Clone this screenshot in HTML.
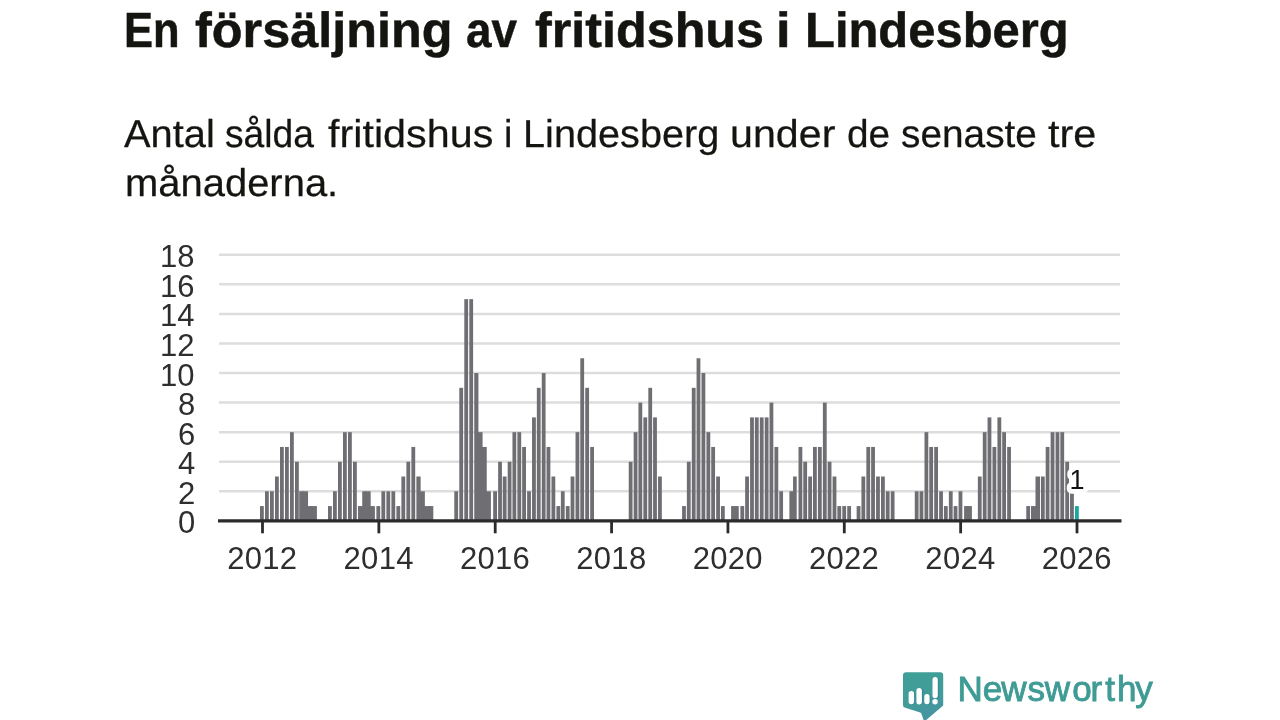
<!DOCTYPE html>
<html lang="sv"><head><meta charset="utf-8"><title>En försäljning av fritidshus i Lindesberg</title>
<style>
html,body{margin:0;padding:0;background:#fff}
body{width:1280px;height:720px;position:relative;overflow:hidden;font-family:"Liberation Sans",sans-serif}
#title{position:absolute;left:0;top:2.7px;width:1280px;height:56px;margin:0;font-weight:bold;font-size:49.5px;line-height:56px;color:#141410;white-space:nowrap;-webkit-text-stroke:0.5px #141410}
#sub{position:absolute;left:0;top:109.6px;width:1280px;height:100px;margin:0;font-size:38.8px;line-height:49.25px;color:#141410;white-space:nowrap;-webkit-text-stroke:0.25px #141410}
#title,#sub{text-rendering:geometricPrecision}
#title span,#sub span{position:absolute;top:0;transform-origin:0 0;display:block}
#sub span.l2{top:49.25px}
svg text{font-family:"Liberation Sans",sans-serif;fill:#2e2e2e}
.yl{font-size:31px}.xl{font-size:31px;letter-spacing:0.3px}
.an{font-size:27px;fill:#111}
#chart{position:absolute;left:0;top:0}
#logo{position:absolute;left:0;top:0}
#brand{position:absolute;left:957.55px;top:669.2px;font-size:35px;line-height:40px;color:#3f9b95;-webkit-text-stroke:0.9px #3f9b95;white-space:nowrap}
</style></head><body>
<h1 id="title"><span style="left:124.36px;transform:translateY(0.0px) scale(0.8793,1.0)">En</span> <span style="left:195.00px;transform:translateY(0.0px) scale(1.0180,1.0)">försäljning</span> <span style="left:466.07px;transform:translateY(0.0px) scale(0.9259,1.0)">av</span> <span style="left:535.00px;transform:translateY(0.0px) scale(1.0156,1.0)">fritidshus</span> <span style="left:776.31px;transform:translateY(0.0px) scale(1.0625,1.0)">i</span> <span style="left:805.03px;transform:translateY(0.0px) scale(0.9885,1.0)">Lindesberg</span></h1>
<p id="sub"><span style="left:123.75px;transform:translateY(0.0px) scale(1.0262,1.0)">Antal</span> <span style="left:225.29px;transform:translateY(0.0px) scale(0.9592,1.0)">sålda</span> <span style="left:328.00px;transform:translateY(0.0px) scale(1.0649,1.0)">fritidshus</span> <span style="left:503.85px;transform:translateY(0.0px) scale(0.9750,1.0)">i</span> <span style="left:523.18px;transform:translateY(0.0px) scale(1.0227,1.0)">Lindesberg</span> <span style="left:730.38px;transform:translateY(0.0px) scale(1.0619,1.0)">under</span> <span style="left:847.00px;transform:translateY(0.0px) scale(1.0000,1.0)">de</span> <span style="left:901.00px;transform:translateY(0.0px) scale(1.0000,1.0)">senaste</span> <span style="left:1048.00px;transform:translateY(0.0px) scale(1.0682,1.0)">tre</span> <span class="l2" style="left:124.94px;transform:translateY(0.0px) scale(1.0297,1.0)">månaderna.</span></p>
<svg id="chart" width="1280" height="720" viewBox="0 0 1280 720">
<line x1="219" x2="1120" y1="491.29" y2="491.29" stroke="#dddddd" stroke-width="2.5"/>
<line x1="219" x2="1120" y1="461.73" y2="461.73" stroke="#dddddd" stroke-width="2.5"/>
<line x1="219" x2="1120" y1="432.17" y2="432.17" stroke="#dddddd" stroke-width="2.5"/>
<line x1="219" x2="1120" y1="402.61" y2="402.61" stroke="#dddddd" stroke-width="2.5"/>
<line x1="219" x2="1120" y1="373.05" y2="373.05" stroke="#dddddd" stroke-width="2.5"/>
<line x1="219" x2="1120" y1="343.49" y2="343.49" stroke="#dddddd" stroke-width="2.5"/>
<line x1="219" x2="1120" y1="313.93" y2="313.93" stroke="#dddddd" stroke-width="2.5"/>
<line x1="219" x2="1120" y1="284.37" y2="284.37" stroke="#dddddd" stroke-width="2.5"/>
<line x1="219" x2="1120" y1="254.81" y2="254.81" stroke="#dddddd" stroke-width="2.5"/>
<rect x="260.00" y="506.07" width="3.80" height="14.78" fill="#6e6e73"/>
<rect x="265.00" y="491.29" width="3.80" height="29.56" fill="#6e6e73"/>
<rect x="270.00" y="491.29" width="3.80" height="29.56" fill="#6e6e73"/>
<rect x="275.00" y="476.51" width="3.80" height="44.34" fill="#6e6e73"/>
<rect x="280.00" y="446.95" width="3.80" height="73.90" fill="#6e6e73"/>
<rect x="285.00" y="446.95" width="3.80" height="73.90" fill="#6e6e73"/>
<rect x="290.00" y="432.17" width="3.80" height="88.68" fill="#6e6e73"/>
<rect x="295.00" y="461.73" width="3.80" height="59.12" fill="#6e6e73"/>
<rect x="299.20" y="491.29" width="4.43" height="29.56" fill="#6e6e73"/>
<rect x="302.62" y="491.29" width="5.42" height="29.56" fill="#6e6e73"/>
<rect x="307.05" y="506.07" width="5.43" height="14.78" fill="#6e6e73"/>
<rect x="311.47" y="506.07" width="5.43" height="14.78" fill="#6e6e73"/>
<rect x="328.00" y="506.07" width="3.80" height="14.78" fill="#6e6e73"/>
<rect x="333.00" y="491.29" width="3.80" height="29.56" fill="#6e6e73"/>
<rect x="338.00" y="461.73" width="3.80" height="59.12" fill="#6e6e73"/>
<rect x="343.00" y="432.17" width="3.80" height="88.68" fill="#6e6e73"/>
<rect x="348.00" y="432.17" width="3.80" height="88.68" fill="#6e6e73"/>
<rect x="353.00" y="461.73" width="3.80" height="59.12" fill="#6e6e73"/>
<rect x="358.00" y="506.07" width="5.23" height="14.78" fill="#6e6e73"/>
<rect x="362.23" y="491.29" width="4.22" height="29.56" fill="#6e6e73"/>
<rect x="365.45" y="491.29" width="5.22" height="29.56" fill="#6e6e73"/>
<rect x="369.67" y="506.07" width="5.23" height="14.78" fill="#6e6e73"/>
<rect x="376.40" y="506.07" width="3.80" height="14.78" fill="#6e6e73"/>
<rect x="381.40" y="491.29" width="3.80" height="29.56" fill="#6e6e73"/>
<rect x="386.40" y="491.29" width="3.80" height="29.56" fill="#6e6e73"/>
<rect x="391.40" y="491.29" width="3.80" height="29.56" fill="#6e6e73"/>
<rect x="396.40" y="506.07" width="3.80" height="14.78" fill="#6e6e73"/>
<rect x="401.40" y="476.51" width="3.80" height="44.34" fill="#6e6e73"/>
<rect x="406.40" y="461.73" width="3.80" height="59.12" fill="#6e6e73"/>
<rect x="411.40" y="446.95" width="3.80" height="73.90" fill="#6e6e73"/>
<rect x="416.40" y="476.51" width="4.23" height="44.34" fill="#6e6e73"/>
<rect x="419.62" y="491.29" width="5.23" height="29.56" fill="#6e6e73"/>
<rect x="423.85" y="506.07" width="5.22" height="14.78" fill="#6e6e73"/>
<rect x="428.07" y="506.07" width="5.23" height="14.78" fill="#6e6e73"/>
<rect x="454.30" y="491.29" width="3.80" height="29.56" fill="#6e6e73"/>
<rect x="459.30" y="387.83" width="3.80" height="133.02" fill="#6e6e73"/>
<rect x="464.30" y="299.15" width="3.80" height="221.70" fill="#6e6e73"/>
<rect x="469.30" y="299.15" width="3.80" height="221.70" fill="#6e6e73"/>
<rect x="474.25" y="373.05" width="4.16" height="147.80" fill="#6e6e73"/>
<rect x="477.41" y="432.17" width="5.16" height="88.68" fill="#6e6e73"/>
<rect x="481.57" y="446.95" width="5.16" height="73.90" fill="#6e6e73"/>
<rect x="485.74" y="491.29" width="5.16" height="29.56" fill="#6e6e73"/>
<rect x="493.19" y="491.29" width="3.80" height="29.56" fill="#6e6e73"/>
<rect x="498.13" y="461.73" width="3.80" height="59.12" fill="#6e6e73"/>
<rect x="502.75" y="476.51" width="3.80" height="44.34" fill="#6e6e73"/>
<rect x="507.68" y="461.73" width="3.80" height="59.12" fill="#6e6e73"/>
<rect x="512.46" y="432.17" width="3.80" height="88.68" fill="#6e6e73"/>
<rect x="517.40" y="432.17" width="3.80" height="88.68" fill="#6e6e73"/>
<rect x="522.18" y="446.95" width="3.80" height="73.90" fill="#6e6e73"/>
<rect x="527.12" y="491.29" width="3.80" height="29.56" fill="#6e6e73"/>
<rect x="532.05" y="417.39" width="3.80" height="103.46" fill="#6e6e73"/>
<rect x="536.83" y="387.83" width="3.80" height="133.02" fill="#6e6e73"/>
<rect x="541.77" y="373.05" width="3.80" height="147.80" fill="#6e6e73"/>
<rect x="546.55" y="446.95" width="3.80" height="73.90" fill="#6e6e73"/>
<rect x="551.48" y="476.51" width="3.80" height="44.34" fill="#6e6e73"/>
<rect x="556.42" y="506.07" width="3.80" height="14.78" fill="#6e6e73"/>
<rect x="560.88" y="491.29" width="3.80" height="29.56" fill="#6e6e73"/>
<rect x="565.82" y="506.07" width="3.80" height="14.78" fill="#6e6e73"/>
<rect x="570.60" y="476.51" width="3.80" height="44.34" fill="#6e6e73"/>
<rect x="575.53" y="432.17" width="3.80" height="88.68" fill="#6e6e73"/>
<rect x="580.31" y="358.27" width="3.80" height="162.58" fill="#6e6e73"/>
<rect x="585.25" y="387.83" width="3.80" height="133.02" fill="#6e6e73"/>
<rect x="590.19" y="446.95" width="3.80" height="73.90" fill="#6e6e73"/>
<rect x="628.73" y="461.73" width="3.80" height="59.12" fill="#6e6e73"/>
<rect x="633.67" y="432.17" width="3.80" height="88.68" fill="#6e6e73"/>
<rect x="638.44" y="402.61" width="3.80" height="118.24" fill="#6e6e73"/>
<rect x="643.38" y="417.39" width="3.80" height="103.46" fill="#6e6e73"/>
<rect x="648.32" y="387.83" width="3.80" height="133.02" fill="#6e6e73"/>
<rect x="653.10" y="417.39" width="3.80" height="103.46" fill="#6e6e73"/>
<rect x="658.03" y="476.51" width="3.80" height="44.34" fill="#6e6e73"/>
<rect x="682.08" y="506.07" width="3.80" height="14.78" fill="#6e6e73"/>
<rect x="686.86" y="461.73" width="3.80" height="59.12" fill="#6e6e73"/>
<rect x="691.80" y="387.83" width="3.80" height="133.02" fill="#6e6e73"/>
<rect x="696.58" y="358.27" width="3.80" height="162.58" fill="#6e6e73"/>
<rect x="701.51" y="373.05" width="3.80" height="147.80" fill="#6e6e73"/>
<rect x="706.45" y="432.17" width="3.80" height="88.68" fill="#6e6e73"/>
<rect x="711.23" y="446.95" width="3.80" height="73.90" fill="#6e6e73"/>
<rect x="716.17" y="476.51" width="3.80" height="44.34" fill="#6e6e73"/>
<rect x="720.95" y="506.07" width="3.80" height="14.78" fill="#6e6e73"/>
<rect x="731.10" y="506.07" width="3.82" height="14.78" fill="#6e6e73"/>
<rect x="733.92" y="506.07" width="4.83" height="14.78" fill="#6e6e73"/>
<rect x="740.38" y="506.07" width="3.80" height="14.78" fill="#6e6e73"/>
<rect x="745.15" y="476.51" width="3.80" height="44.34" fill="#6e6e73"/>
<rect x="750.09" y="417.39" width="3.80" height="103.46" fill="#6e6e73"/>
<rect x="754.87" y="417.39" width="3.80" height="103.46" fill="#6e6e73"/>
<rect x="759.81" y="417.39" width="3.80" height="103.46" fill="#6e6e73"/>
<rect x="764.74" y="417.39" width="3.80" height="103.46" fill="#6e6e73"/>
<rect x="769.52" y="402.61" width="3.80" height="118.24" fill="#6e6e73"/>
<rect x="774.46" y="446.95" width="3.80" height="73.90" fill="#6e6e73"/>
<rect x="779.24" y="491.29" width="3.80" height="29.56" fill="#6e6e73"/>
<rect x="789.40" y="491.29" width="4.65" height="29.56" fill="#6e6e73"/>
<rect x="793.05" y="476.51" width="3.65" height="44.34" fill="#6e6e73"/>
<rect x="798.51" y="446.95" width="3.80" height="73.90" fill="#6e6e73"/>
<rect x="803.29" y="461.73" width="3.80" height="59.12" fill="#6e6e73"/>
<rect x="808.22" y="476.51" width="3.80" height="44.34" fill="#6e6e73"/>
<rect x="813.00" y="446.95" width="3.80" height="73.90" fill="#6e6e73"/>
<rect x="817.94" y="446.95" width="3.80" height="73.90" fill="#6e6e73"/>
<rect x="822.88" y="402.61" width="3.80" height="118.24" fill="#6e6e73"/>
<rect x="827.66" y="461.73" width="3.80" height="59.12" fill="#6e6e73"/>
<rect x="832.59" y="476.51" width="3.80" height="44.34" fill="#6e6e73"/>
<rect x="837.37" y="506.07" width="3.80" height="14.78" fill="#6e6e73"/>
<rect x="842.31" y="506.07" width="3.80" height="14.78" fill="#6e6e73"/>
<rect x="847.25" y="506.07" width="3.80" height="14.78" fill="#6e6e73"/>
<rect x="856.64" y="506.07" width="3.80" height="14.78" fill="#6e6e73"/>
<rect x="861.42" y="476.51" width="3.80" height="44.34" fill="#6e6e73"/>
<rect x="866.36" y="446.95" width="3.80" height="73.90" fill="#6e6e73"/>
<rect x="871.14" y="446.95" width="3.80" height="73.90" fill="#6e6e73"/>
<rect x="876.07" y="476.51" width="3.80" height="44.34" fill="#6e6e73"/>
<rect x="881.01" y="476.51" width="3.80" height="44.34" fill="#6e6e73"/>
<rect x="885.79" y="491.29" width="3.80" height="29.56" fill="#6e6e73"/>
<rect x="890.73" y="491.29" width="3.80" height="29.56" fill="#6e6e73"/>
<rect x="914.78" y="491.29" width="3.80" height="29.56" fill="#6e6e73"/>
<rect x="919.55" y="491.29" width="3.80" height="29.56" fill="#6e6e73"/>
<rect x="924.49" y="432.17" width="3.80" height="88.68" fill="#6e6e73"/>
<rect x="929.27" y="446.95" width="3.80" height="73.90" fill="#6e6e73"/>
<rect x="934.21" y="446.95" width="3.80" height="73.90" fill="#6e6e73"/>
<rect x="939.14" y="491.29" width="3.80" height="29.56" fill="#6e6e73"/>
<rect x="943.92" y="506.07" width="3.80" height="14.78" fill="#6e6e73"/>
<rect x="948.86" y="491.29" width="3.80" height="29.56" fill="#6e6e73"/>
<rect x="953.64" y="506.07" width="3.80" height="14.78" fill="#6e6e73"/>
<rect x="958.57" y="491.29" width="3.80" height="29.56" fill="#6e6e73"/>
<rect x="964.10" y="506.07" width="3.90" height="14.78" fill="#6e6e73"/>
<rect x="967.00" y="506.07" width="4.90" height="14.78" fill="#6e6e73"/>
<rect x="977.85" y="476.51" width="3.80" height="44.34" fill="#6e6e73"/>
<rect x="982.78" y="432.17" width="3.80" height="88.68" fill="#6e6e73"/>
<rect x="987.56" y="417.39" width="3.80" height="103.46" fill="#6e6e73"/>
<rect x="992.50" y="446.95" width="3.80" height="73.90" fill="#6e6e73"/>
<rect x="997.44" y="417.39" width="3.80" height="103.46" fill="#6e6e73"/>
<rect x="1002.21" y="432.17" width="3.80" height="88.68" fill="#6e6e73"/>
<rect x="1007.15" y="446.95" width="3.80" height="73.90" fill="#6e6e73"/>
<rect x="1026.26" y="506.07" width="3.80" height="14.78" fill="#6e6e73"/>
<rect x="1031.00" y="506.07" width="5.50" height="14.78" fill="#6e6e73"/>
<rect x="1035.50" y="476.51" width="4.50" height="44.34" fill="#6e6e73"/>
<rect x="1040.92" y="476.51" width="3.80" height="44.34" fill="#6e6e73"/>
<rect x="1045.69" y="446.95" width="3.80" height="73.90" fill="#6e6e73"/>
<rect x="1050.63" y="432.17" width="3.80" height="88.68" fill="#6e6e73"/>
<rect x="1055.57" y="432.17" width="3.80" height="88.68" fill="#6e6e73"/>
<rect x="1060.35" y="432.17" width="3.80" height="88.68" fill="#6e6e73"/>
<rect x="1065.28" y="461.73" width="3.80" height="59.12" fill="#6e6e73"/>
<rect x="1070.06" y="476.51" width="3.80" height="44.34" fill="#6e6e73"/>
<rect x="1075.00" y="506.07" width="3.80" height="14.78" fill="#1aa8a0"/>
<line x1="218" x2="1121.5" y1="520.85" y2="520.85" stroke="#2b2b2b" stroke-width="3.2"/>
<line x1="262.50" x2="262.50" y1="520.85" y2="533.3" stroke="#2b2b2b" stroke-width="2.8"/>
<line x1="378.86" x2="378.86" y1="520.85" y2="533.3" stroke="#2b2b2b" stroke-width="2.8"/>
<line x1="495.21" x2="495.21" y1="520.85" y2="533.3" stroke="#2b2b2b" stroke-width="2.8"/>
<line x1="611.57" x2="611.57" y1="520.85" y2="533.3" stroke="#2b2b2b" stroke-width="2.8"/>
<line x1="727.93" x2="727.93" y1="520.85" y2="533.3" stroke="#2b2b2b" stroke-width="2.8"/>
<line x1="844.29" x2="844.29" y1="520.85" y2="533.3" stroke="#2b2b2b" stroke-width="2.8"/>
<line x1="960.64" x2="960.64" y1="520.85" y2="533.3" stroke="#2b2b2b" stroke-width="2.8"/>
<line x1="1077.00" x2="1077.00" y1="520.85" y2="533.3" stroke="#2b2b2b" stroke-width="2.8"/>
<text class="yl" x="195.3" y="533.35" text-anchor="end">0</text>
<text class="yl" x="195.3" y="503.79" text-anchor="end">2</text>
<text class="yl" x="195.3" y="474.23" text-anchor="end">4</text>
<text class="yl" x="195.3" y="444.67" text-anchor="end">6</text>
<text class="yl" x="195.3" y="415.11" text-anchor="end">8</text>
<text class="yl" x="194.5" y="385.55" text-anchor="end">10</text>
<text class="yl" x="194.5" y="355.99" text-anchor="end">12</text>
<text class="yl" x="194.5" y="326.43" text-anchor="end">14</text>
<text class="yl" x="194.5" y="296.87" text-anchor="end">16</text>
<text class="yl" x="194.5" y="267.31" text-anchor="end">18</text>
<text class="xl" x="262.30" y="569.2" text-anchor="middle">2012</text>
<text class="xl" x="378.66" y="569.2" text-anchor="middle">2014</text>
<text class="xl" x="495.01" y="569.2" text-anchor="middle">2016</text>
<text class="xl" x="611.37" y="569.2" text-anchor="middle">2018</text>
<text class="xl" x="727.73" y="569.2" text-anchor="middle">2020</text>
<text class="xl" x="844.09" y="569.2" text-anchor="middle">2022</text>
<text class="xl" x="960.44" y="569.2" text-anchor="middle">2024</text>
<text class="xl" x="1076.80" y="569.2" text-anchor="middle">2026</text>
<circle cx="1071.6" cy="481" r="2.4" fill="#fff"/>
<text class="an" x="1077" y="489.3" text-anchor="middle" stroke="#fff" stroke-width="9.5" stroke-linejoin="round" paint-order="stroke">1</text>
</svg>
<svg id="logo" width="1280" height="720" viewBox="0 0 1280 720">
<defs><linearGradient id="lg" x1="0" y1="0" x2="0.35" y2="1"><stop offset="0" stop-color="#3f9f97"/><stop offset="0.6" stop-color="#419c99"/><stop offset="1" stop-color="#4695a1"/></linearGradient></defs>
<path d="M906 672.2 H940.2 a3 3 0 0 1 3 3 V705.6 L926.2 720 H923.6 L921.3 713.6 Q921 712.8 920.2 712.5 L905.3 707.8 a3 3 0 0 1 -2.3 -2.9 V675.2 a3 3 0 0 1 3 -3 Z" fill="url(#lg)"/>
<g fill="#2f7d86" opacity="0.55">
<rect x="909.9" y="691.6" width="5.6" height="13" rx="2.8"/>
<rect x="917.8" y="688.2" width="5.6" height="16.4" rx="2.8"/>
<rect x="925.4" y="694.4" width="5.4" height="10.2" rx="2.7"/>
<rect x="933.7" y="677.4" width="5.4" height="21.4" rx="2.7"/>
</g>
<rect x="908.6" y="691.1" width="5.5" height="13.1" rx="2.75" fill="#fff"/>
<rect x="916.4" y="687.9" width="5.5" height="16.6" rx="2.75" fill="#fff"/>
<rect x="924.3" y="694" width="5.3" height="10.2" rx="2.65" fill="#fff"/>
<rect x="932.5" y="677" width="5.3" height="21.2" rx="2.65" fill="#fff"/>
<circle cx="935.05" cy="701.7" r="2.7" fill="#fff"/>
</svg>
<div id="brand"><span style="letter-spacing:-0.18px">N</span><span style="letter-spacing:-0.82px">e</span><span style="letter-spacing:1.02px">w</span><span style="letter-spacing:-0.4px">s</span><span style="letter-spacing:2.17px">w</span><span style="letter-spacing:-1.12px">o</span><span style="letter-spacing:2.99px">r</span><span style="letter-spacing:2.02px">t</span><span style="letter-spacing:-1.07px">h</span><span style="letter-spacing:0px">y</span></div>
</body></html>
